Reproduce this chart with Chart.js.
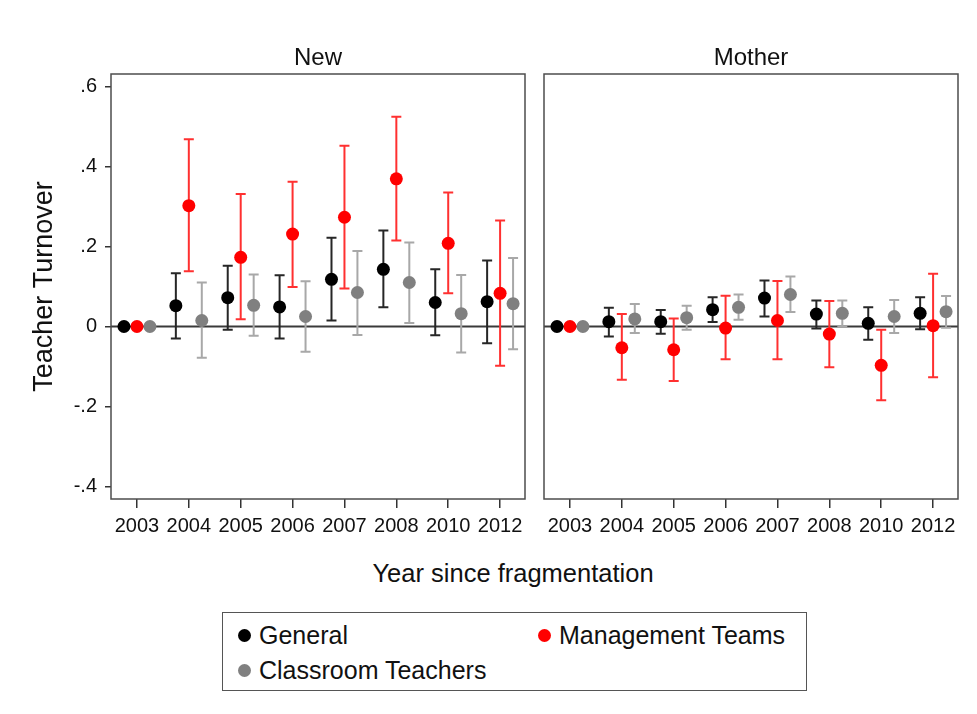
<!DOCTYPE html>
<html>
<head>
<meta charset="utf-8">
<script src="https://cdn.jsdelivr.net/npm/chart.js@4.4.1/dist/chart.umd.min.js"></script>
<style>
  body { margin: 0; background: #fff; font-family: "Liberation Sans", Arial, sans-serif; }
  #wrap { position: relative; width: 977px; height: 714px; background: #fff; }
  #wrap canvas { position: absolute; top: 0; }
  #newChart { left: 0; }
  #motherChart { left: 530px; }
  #xTitle { position: absolute; left: 0; width: 1026px; top: 559px; text-align: center; font-size: 25.5px; color: #111; }
  #legend { position: absolute; left: 222px; top: 612px; width: 583px; height: 77px; border: 1.5px solid #555; }
  .item { position: absolute; font-size: 25px; color: #111; line-height: 28px; white-space: nowrap; }
  .dot { position: absolute; width: 13px; height: 13px; border-radius: 50%; left: -21px; top: 8px; }
</style>
</head>
<body>
<div id="wrap">
  <canvas id="newChart" width="535" height="545"></canvas>
  <canvas id="motherChart" width="447" height="545"></canvas>
  <div id="xTitle">Year since fragmentation</div>
  <div id="legend"></div>
</div>
<script>
// === Data ===
const years = ['2003', '2004', '2005', '2006', '2007', '2008', '2010', '2012'];
const yTicks = [-0.4, -0.2, 0, 0.2, 0.4, 0.6];

// panel "New"
const newGeneral   = [0, 0.052, 0.072, 0.049, 0.118, 0.143, 0.060, 0.062];
const newGeneralLo = [0, -0.030, -0.008, -0.030, 0.015, 0.048, -0.022, -0.042];
const newGeneralHi = [0, 0.133, 0.152, 0.128, 0.222, 0.240, 0.143, 0.165];
const newMgmt      = [0, 0.302, 0.173, 0.231, 0.273, 0.369, 0.208, 0.083];
const newMgmtLo    = [0, 0.138, 0.018, 0.099, 0.095, 0.215, 0.083, -0.098];
const newMgmtHi    = [0, 0.468, 0.331, 0.362, 0.452, 0.524, 0.335, 0.265];
const newClass     = [0, 0.015, 0.053, 0.025, 0.085, 0.110, 0.032, 0.057];
const newClassLo   = [0, -0.078, -0.023, -0.063, -0.021, 0.009, -0.065, -0.057];
const newClassHi   = [0, 0.110, 0.130, 0.113, 0.189, 0.210, 0.129, 0.171];

// panel "Mother"
const motherGeneral   = [0, 0.012, 0.012, 0.042, 0.071, 0.031, 0.008, 0.033];
const motherGeneralLo = [0, -0.025, -0.018, 0.011, 0.025, -0.005, -0.033, -0.007];
const motherGeneralHi = [0, 0.047, 0.041, 0.073, 0.115, 0.065, 0.048, 0.073];
const motherMgmt      = [0, -0.053, -0.058, -0.004, 0.015, -0.019, -0.097, 0.002];
const motherMgmtLo    = [0, -0.133, -0.136, -0.082, -0.082, -0.102, -0.184, -0.127];
const motherMgmtHi    = [0, 0.031, 0.020, 0.077, 0.114, 0.064, -0.008, 0.132];
const motherClass     = [0, 0.019, 0.022, 0.048, 0.080, 0.033, 0.025, 0.037];
const motherClassLo   = [0, -0.016, -0.008, 0.017, 0.036, 0.000, -0.016, -0.003];
const motherClassHi   = [0, 0.056, 0.052, 0.080, 0.125, 0.065, 0.066, 0.076];

const series = [
  { label: 'General', color: '#000000', bar: '#262626', shift: -0.25 },
  { label: 'Management Teams', color: '#ff0000', bar: '#ff3030', shift: 0 },
  { label: 'Classroom Teachers', color: '#808080', bar: '#a8a8a8', shift: 0.25 }
];

const FONT = '"Liberation Sans", Arial, sans-serif';

// === Error bars, zero line and frame ===
const errorBars = {
  id: 'errorBars',
  beforeDatasetsDraw(chart) {
    const { ctx, chartArea, scales: { x, y } } = chart;
    ctx.save();
    // reference line at 0
    const y0 = y.getPixelForValue(0);
    ctx.strokeStyle = '#3a3a3a';
    ctx.lineWidth = 2;
    ctx.beginPath();
    ctx.moveTo(chartArea.left, y0);
    ctx.lineTo(chartArea.right, y0);
    ctx.stroke();

    chart.data.datasets.forEach(ds => {
      ctx.strokeStyle = ds.barColor;
      ctx.lineWidth = 2;
      ds.data.forEach((pt, i) => {
        const lo = ds.lo[i], hi = ds.hi[i];
        if (lo === hi) return;
        const px = x.getPixelForValue(pt.x);
        const yl = y.getPixelForValue(lo);
        const yh = y.getPixelForValue(hi);
        ctx.beginPath();
        ctx.moveTo(px, yl); ctx.lineTo(px, yh);
        ctx.moveTo(px - 5, yl); ctx.lineTo(px + 5, yl);
        ctx.moveTo(px - 5, yh); ctx.lineTo(px + 5, yh);
        ctx.stroke();
      });
    });
    ctx.restore();
  },
  afterDraw(chart) {
    const { ctx, chartArea: a } = chart;
    ctx.save();
    ctx.strokeStyle = '#4d4d4d';
    ctx.lineWidth = 1.5;
    ctx.strokeRect(a.left, a.top, a.right - a.left, a.bottom - a.top);
    ctx.restore();
  }
};

function makeDatasets(vals, los, his) {
  return series.map((s, k) => ({
    label: s.label,
    data: vals[k].map((v, i) => ({ x: i + s.shift, y: v })),
    lo: los[k],
    hi: his[k],
    barColor: s.bar,
    backgroundColor: s.color,
    borderWidth: 0,
    pointRadius: 6.5,
    pointHoverRadius: 6.5,
    showLine: false
  }));
}

function fmtTick(v) {
  if (Math.abs(v) < 1e-9) return '0';
  return v.toFixed(1).replace('0.', '.');
}

function makeOptions(title, showY, padding) {
  return {
    responsive: false,
    devicePixelRatio: 1,
    animation: false,
    layout: { padding: padding },
    plugins: {
      legend: { display: false },
      tooltip: { enabled: false },
      title: {
        display: true,
        text: title,
        fullSize: false,
        color: '#111',
        font: { family: FONT, size: 24, weight: 'normal' },
        padding: { top: 43.6, bottom: 1.6 }
      }
    },
    scales: {
      x: {
        type: 'linear',
        min: -0.5,
        max: 7.48,
        afterBuildTicks: scale => { scale.ticks = years.map((_, i) => ({ value: i })); },
        afterFit: scale => { scale.height = 46; },
        border: { display: false },
        grid: { drawOnChartArea: false, drawTicks: true, tickLength: 9, color: '#333', lineWidth: 1.5 },
        ticks: {
          autoSkip: false,
          maxRotation: 0,
          minRotation: 0,
          padding: 6,
          color: '#111',
          font: { family: FONT, size: 20 },
          callback: (v, i) => years[i]
        }
      },
      y: {
        display: showY,
        min: -0.431,
        max: 0.631,
        afterBuildTicks: scale => { scale.ticks = yTicks.map(v => ({ value: v })); },
        afterFit: scale => { scale.width = showY ? 111 : 0; },
        border: { display: false },
        grid: { drawOnChartArea: false, drawTicks: true, tickLength: 6, color: '#333', lineWidth: 1.5 },
        ticks: {
          padding: 8,
          color: '#111',
          font: { family: FONT, size: 20 },
          callback: v => fmtTick(v)
        },
        title: {
          display: true,
          text: 'Teacher Turnover',
          color: '#111',
          font: { family: FONT, size: 27 },
          padding: { top: 28.8, bottom: 0 }
        }
      }
    }
  };
}

new Chart(document.getElementById('newChart'), {
  type: 'scatter',
  data: {
    datasets: makeDatasets(
      [newGeneral, newMgmt, newClass],
      [newGeneralLo, newMgmtLo, newClassLo],
      [newGeneralHi, newMgmtHi, newClassHi])
  },
  options: makeOptions('New', true, { left: 0, right: 10, top: 0, bottom: 0 }),
  plugins: [errorBars]
});

new Chart(document.getElementById('motherChart'), {
  type: 'scatter',
  data: {
    datasets: makeDatasets(
      [motherGeneral, motherMgmt, motherClass],
      [motherGeneralLo, motherMgmtLo, motherClassLo],
      [motherGeneralHi, motherMgmtHi, motherClassHi])
  },
  options: makeOptions('Mother', false, { left: 14, right: 19, top: 0, bottom: 0 }),
  plugins: [errorBars]
});

// === Legend (two columns, boxed) ===
const legendPos = [
  { left: 36, top: 8 },
  { left: 336, top: 8 },
  { left: 36, top: 43 }
];
const legend = document.getElementById('legend');
series.forEach((s, k) => {
  const item = document.createElement('div');
  item.className = 'item';
  item.style.left = legendPos[k].left + 'px';
  item.style.top = legendPos[k].top + 'px';
  item.innerHTML = '<span class="dot" style="background:' + s.color + '"></span>' + s.label;
  legend.appendChild(item);
});
</script>
</body>
</html>
